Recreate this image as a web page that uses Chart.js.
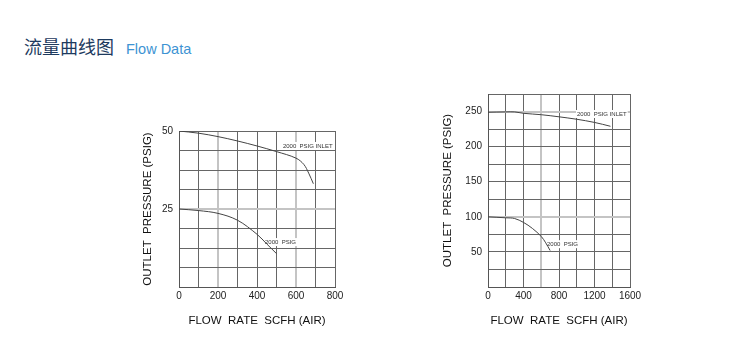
<!DOCTYPE html>
<html><head><meta charset="utf-8">
<script src="https://cdn.jsdelivr.net/npm/chart.js@4/dist/chart.umd.min.js"></script>
<style>
html,body{margin:0;padding:0;background:#fff;width:748px;height:356px;overflow:hidden;position:relative;font-family:"Liberation Sans",Arial,sans-serif}
#title{position:absolute;left:24px;top:33px;white-space:nowrap}
#title .cn{font-family:"Noto Sans CJK SC",sans-serif;font-size:18px;color:#1d3a5e}
#title .en{font-family:"Liberation Sans",Arial,sans-serif;font-size:14.5px;color:#3d93d3;margin-left:12px}
.box{position:absolute}
</style></head><body>
<div id="title"><span class="cn">流量曲线图</span><span class="en">Flow Data</span></div>
<div class="box" style="left:130px;top:110px;width:220px;height:225px"><canvas id="c1"></canvas></div>
<div class="box" style="left:430px;top:80px;width:220px;height:255px"><canvas id="c2"></canvas></div>
<script>
// Left chart data
const leftInletX = [0, 100, 200, 300, 400, 500, 600, 640, 665, 689];
const leftInletY = [50, 49.3, 48.2, 46.8, 45.2, 43.4, 41.3, 39.3, 36.5, 33.1];
const leftLowX = [0, 100, 200, 300, 400, 450, 500];
const leftLowY = [25, 24.5, 23.6, 21.4, 16.9, 13.8, 10.7];
const leftYLabels = [25, 50];
// Right chart data
const rightInletX = [0, 200, 300, 400, 600, 800, 1000, 1200, 1380];
const rightInletY = [249, 249.5, 249.5, 247.5, 245.5, 242.5, 239, 234.5, 229];
const rightLowX = [0, 200, 300, 400, 500, 600, 650, 700];
const rightLowY = [100, 98.6, 97.6, 92, 83.5, 72, 63, 52];
const rightYLabels = [50, 100, 150, 200, 250];
const seriesNames = ['2000  PSIG INLET', '2000  PSIG'];
const xTitle = 'FLOW  RATE  SCFH (AIR)';
const yTitle = 'OUTLET  PRESSURE (PSIG)';

function pts(xs, ys){ return xs.map((x,i)=>({x, y: ys[i]})); }

const LABEL_FONT = '6px "Liberation Sans", Arial, sans-serif';
const labelPlugin = {
  id: 'seriesLabels',
  beforeDatasetsDraw(chart){
    const ctx = chart.ctx, xs = chart.scales.x, ys = chart.scales.y;
    ctx.save();
    ctx.font = LABEL_FONT;
    (chart.options.plugins.seriesLabels.items || []).forEach(it => {
      const px = xs.getPixelForValue(it.x), py = ys.getPixelForValue(it.y);
      const w = ctx.measureText(it.text).width;
      ctx.fillStyle = '#fff';
      ctx.fillRect(px - 1, py - 4, w + 2, 8);
    });
    ctx.restore();
  },
  afterDatasetsDraw(chart){
    const ctx = chart.ctx, xs = chart.scales.x, ys = chart.scales.y;
    ctx.save();
    ctx.font = LABEL_FONT;
    ctx.textBaseline = 'middle';
    ctx.textAlign = 'left';
    ctx.fillStyle = '#333';
    (chart.options.plugins.seriesLabels.items || []).forEach(it => {
      ctx.fillText(it.text, xs.getPixelForValue(it.x), ys.getPixelForValue(it.y));
    });
    ctx.restore();
  }
};

function makeChart(id, cfg){
  const ds = [
    {data: pts(cfg.inX, cfg.inY)},
    {data: pts(cfg.lowX, cfg.lowY)}
  ].map(d => Object.assign(d, {borderColor:'#444', borderWidth:1, pointRadius:0, tension:0.35, fill:false}));
  return new Chart(document.getElementById(id), {
    type: 'line',
    data: {datasets: ds},
    plugins: [labelPlugin],
    options: {
      responsive: true, maintainAspectRatio: false, animation: false,
      layout: {padding: {top: cfg.padTop, right: cfg.padRight, left: 0, bottom: 0}},
      plugins: {legend:{display:false}, tooltip:{enabled:false},
        seriesLabels: {items: cfg.labels}},
      scales: {
        x: {type:'linear', min:0, max:cfg.xMax,
          afterFit(s){ s.height = 48; },
          grid: {color: c => cfg.lightX.includes(c.tick && c.tick.value) ? '#c4c4c4' : '#666',
                 lineWidth: c => cfg.lightX.includes(c.tick && c.tick.value) ? 2 : 1, drawTicks:false},
          border: {color:'#555', width:1},
          ticks: {stepSize: cfg.xStep, padding: 3, color:'#222', font:{size:10, family:'"Liberation Sans", Arial, sans-serif'},
            maxRotation:0, autoSkip:false,
            callback: v => (v % cfg.xLabelStep === 0) ? String(v) : ''},
          title: {display:true, text: xTitle, color:'#111', font:{size:11.5, family:'"Liberation Sans", Arial, sans-serif'}, padding:{top:0, bottom:7}}
        },
        y: {type:'linear', min:0, max:cfg.yMax,
          afterFit(s){ s.width = cfg.yWidth; },
          grid: {color: c => cfg.lightY.includes(c.tick && c.tick.value) ? '#c4c4c4' : '#666',
                 lineWidth: c => cfg.lightY.includes(c.tick && c.tick.value) ? 2 : 1, drawTicks:false},
          border: {color:'#555', width:1},
          ticks: {stepSize: cfg.yStep, padding: 6, color:'#222', font:{size:10, family:'"Liberation Sans", Arial, sans-serif'},
            autoSkip:false,
            callback: v => cfg.yLabels.includes(v) ? String(v) : ''},
          title: {display:true, text: yTitle, color:'#111', font:{size:11.5, family:'"Liberation Sans", Arial, sans-serif'}, padding:{top:cfg.yTitlePad, bottom:0}}
        }
      }
    }
  });
}

makeChart('c1', {
  inX: leftInletX, inY: leftInletY, lowX: leftLowX, lowY: leftLowY,
  xMax: 800, xStep: 100, xLabelStep: 200, yMax: 50, yStep: 6.25, yLabels: leftYLabels,
  yWidth: 49, padTop: 21, padRight: 15, yTitlePad: 11,
  lightX: [200, 600], lightY: [25],
  labels: [{x: 533, y: 45.2, text: seriesNames[0]}, {x: 441, y: 14.4, text: seriesNames[1]}]
});
makeChart('c2', {
  inX: rightInletX, inY: rightInletY, lowX: rightLowX, lowY: rightLowY,
  xMax: 1600, xStep: 200, xLabelStep: 400, yMax: 275, yStep: 25, yLabels: rightYLabels,
  yWidth: 58, padTop: 14, padRight: 20, yTitlePad: 11,
  lightX: [600], lightY: [100, 250],
  labels: [{x: 1003, y: 246.5, text: seriesNames[0]}, {x: 665, y: 61, text: seriesNames[1]}]
});
</script>
</body></html>
